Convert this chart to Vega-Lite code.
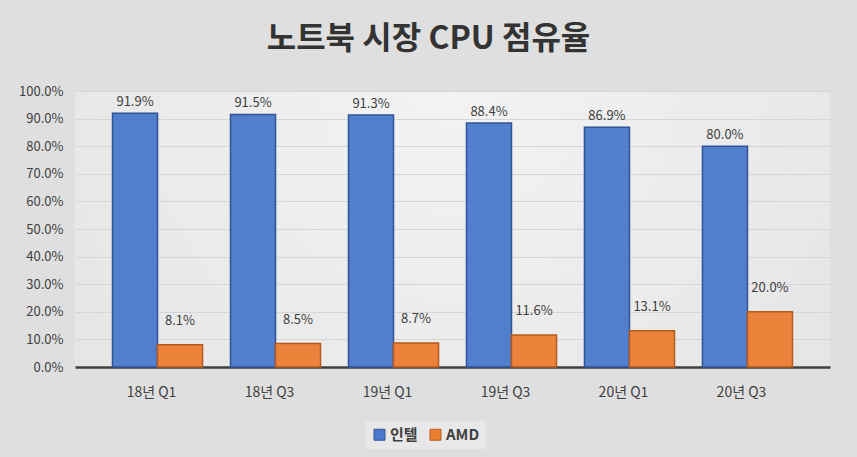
{
  "$schema": "https://vega.github.io/schema/vega-lite/v6.json",
  "width": 755,
  "height": 276,
  "autosize": {"type": "none"},
  "padding": {"left": 75, "top": 91, "right": 27, "bottom": 90},
  "background": "#dfdfdf",
  "view": {
    "stroke": null,
    "fill": {
      "gradient": "radial",
      "x1": 0.5, "y1": 0.3, "r1": 0,
      "x2": 0.5, "y2": 0.3, "r2": 0.85,
      "stops": [
        {"offset": 0, "color": "#f3f3f3"},
        {"offset": 0.55, "color": "#e9e9e9"},
        {"offset": 1, "color": "#dfdfdf"}
      ]
    }
  },
  "title": {
    "text": "노트북 시장 CPU 점유율",
    "font": "Noto Sans CJK KR",
    "fontSize": 32,
    "fontWeight": "bold",
    "color": "#333333",
    "anchor": "middle",
    "dx": -24,
    "offset": 29
  },
  "data": {
    "values": [
      {"quarter": "18년 Q1", "vendor": "인텔", "share": 0.919},
      {"quarter": "18년 Q1", "vendor": "AMD", "share": 0.081},
      {"quarter": "18년 Q3", "vendor": "인텔", "share": 0.915},
      {"quarter": "18년 Q3", "vendor": "AMD", "share": 0.085},
      {"quarter": "19년 Q1", "vendor": "인텔", "share": 0.913},
      {"quarter": "19년 Q1", "vendor": "AMD", "share": 0.087},
      {"quarter": "19년 Q3", "vendor": "인텔", "share": 0.884},
      {"quarter": "19년 Q3", "vendor": "AMD", "share": 0.116},
      {"quarter": "20년 Q1", "vendor": "인텔", "share": 0.869},
      {"quarter": "20년 Q1", "vendor": "AMD", "share": 0.131},
      {"quarter": "20년 Q3", "vendor": "인텔", "share": 0.800},
      {"quarter": "20년 Q3", "vendor": "AMD", "share": 0.200}
    ]
  },
  "encoding": {
    "x": {
      "field": "quarter",
      "type": "nominal",
      "sort": null,
      "scale": {"paddingInner": 0.237, "paddingOuter": 0.318},
      "axis": {
        "title": null,
        "labelAngle": 0,
        "labelFont": "Noto Sans CJK KR",
        "labelFontSize": 14,
        "labelColor": "#404040",
        "labelPadding": 18,
        "labelOffset": -6,
        "ticks": false,
        "domainColor": "#404040",
        "domainWidth": 2.5,
        "grid": false
      }
    },
    "xOffset": {
      "field": "vendor",
      "type": "nominal",
      "scale": {"domain": ["인텔", "AMD"], "paddingInner": 0}
    },
    "y": {
      "field": "share",
      "type": "quantitative",
      "scale": {"domain": [0, 1]},
      "axis": {
        "title": null,
        "format": ".1%",
        "values": [0, 0.1, 0.2, 0.3, 0.4, 0.5, 0.6, 0.7, 0.8, 0.9, 1.0],
        "labelOverlap": false,
        "labelFont": "Noto Sans CJK KR",
        "labelFontSize": 13,
        "labelColor": "#404040",
        "labelPadding": 12,
        "ticks": false,
        "domain": false,
        "gridColor": "#d6d6d6",
        "gridWidth": 1
      }
    }
  },
  "layer": [
    {
      "mark": {"type": "bar", "strokeWidth": 1.5, "fillOpacity": 0.95},
      "encoding": {
        "color": {
          "field": "vendor",
          "type": "nominal",
          "scale": {"domain": ["인텔", "AMD"], "range": ["#4a78cc", "#ED7D31"]},
          "legend": {
            "title": null,
            "orient": "none",
            "direction": "horizontal",
            "legendX": 291,
            "legendY": 330,
            "symbolType": "square",
            "symbolSize": 120,
            "symbolStrokeWidth": 1,
            "labelFont": "Noto Sans CJK KR",
            "labelFontSize": 15,
            "labelFontWeight": "bold",
            "labelColor": "#404040",
            "labelOffset": 3,
            "columnPadding": 10,
            "fillColor": "#e8e8e8",
            "padding": 6
          }
        },
        "stroke": {
          "field": "vendor",
          "type": "nominal",
          "scale": {"domain": ["인텔", "AMD"], "range": ["#2F5597", "#B55A1E"]},
          "legend": null
        }
      }
    },
    {
      "transform": [{"filter": "datum.vendor === '인텔'"}],
      "mark": {
        "type": "text",
        "baseline": "middle",
        "dy": -11,
        "font": "Noto Sans CJK KR",
        "fontSize": 13,
        "color": "#404040"
      },
      "encoding": {"text": {"field": "share", "type": "quantitative", "format": ".1%"}}
    },
    {
      "transform": [{"filter": "datum.vendor === 'AMD'"}],
      "mark": {
        "type": "text",
        "baseline": "middle",
        "dy": -24,
        "font": "Noto Sans CJK KR",
        "fontSize": 13,
        "color": "#404040"
      },
      "encoding": {"text": {"field": "share", "type": "quantitative", "format": ".1%"}}
    }
  ]
}
